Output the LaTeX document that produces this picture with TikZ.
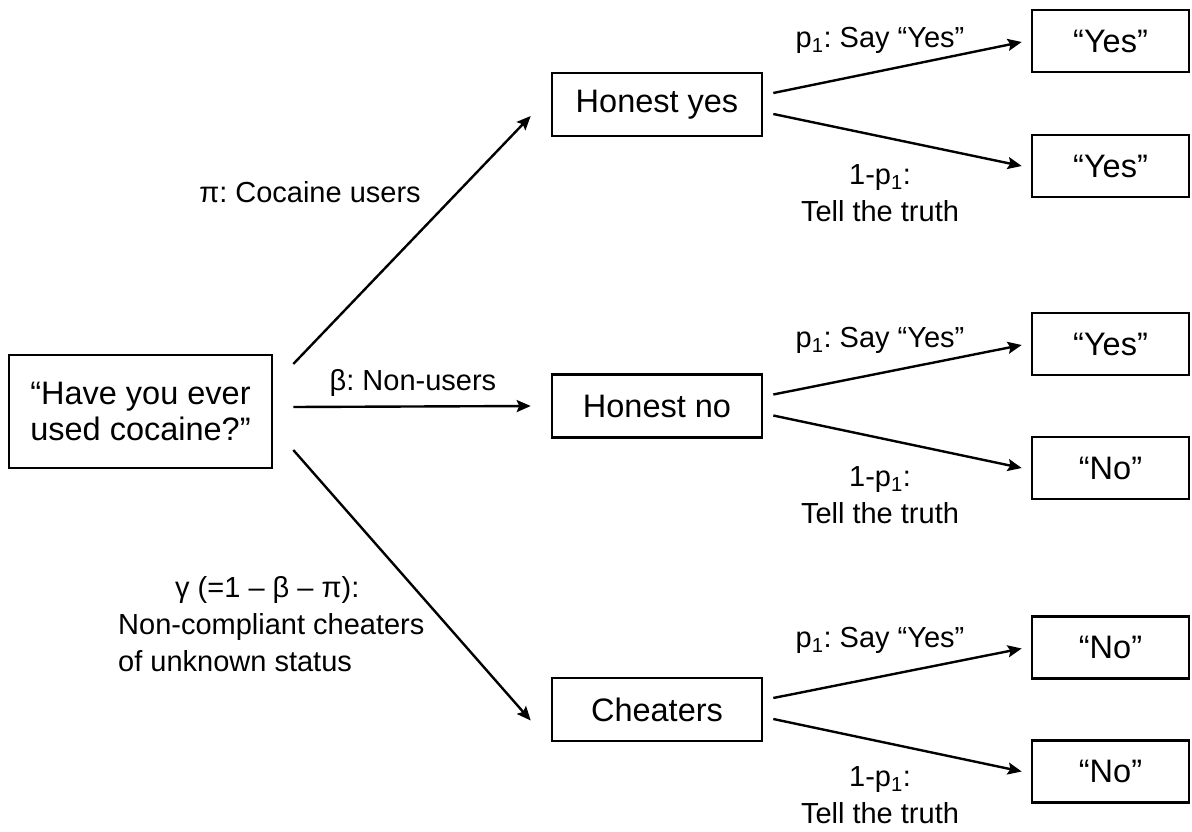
\documentclass[tikz,border=0pt]{standalone}
\usepackage{fontspec}
\setmainfont{Liberation Sans}
\frenchspacing
\usetikzlibrary{arrows.meta}
\begin{document}
\begin{tikzpicture}[x=1pt,y=-1pt,
  box/.style={draw, line width=2.6pt, inner sep=0pt, align=center,
    font=\fontsize{32.5}{36}\selectfont},
  midbox/.style={box, minimum width=210pt, minimum height=63pt},
  endbox/.style={box, minimum width=157pt, minimum height=62pt},
  lbl/.style={inner sep=0pt, align=center, font=\fontsize{29}{37}\selectfont},
  arr/.style={line width=2.4pt, -{Stealth[length=14pt,width=12pt,inset=2.5pt]}}]
\useasboundingbox (0,0) rectangle (1192,832);

% question and the three groups of respondents
\node[box, minimum width=263pt, minimum height=113pt] (q) at (140.5,411.5)
  {“Have you ever\\used cocaine?”};
\node[midbox] (hy) at (657,104.5) {Honest yes};
\node[midbox] (hn) at (657,406) {Honest no};
\node[midbox] (ch) at (657,709.5) {Cheaters};

% answers given
\node[endbox] (a1) at (1110.5,41) {“Yes”};
\node[endbox] (a2) at (1110.5,166) {“Yes”};
\node[endbox] (a3) at (1110.5,344) {“Yes”};
\node[endbox] (a4) at (1110.5,468) {“No”};
\node[endbox] (a5) at (1110.5,647.5) {“No”};
\node[endbox] (a6) at (1110.5,771.5) {“No”};

% branches from the question
\draw[arr] ([shift={(20,-47.5)}]q.east) -- ([shift={(-20,11.5)}]hy.west);
\draw[arr] ([shift={(20,-4.5)}]q.east) -- ([shift={(-20,0)}]hn.west);
\draw[arr] ([shift={(20,38.5)}]q.east) -- ([shift={(-20,11)}]ch.west);

\node[lbl] (lpi) at (310,192) {π: Cocaine users};
\node[lbl] (lbeta) at (413,383) {β: Non-users};
\node[lbl, align=left, anchor=west] (lgamma) at (118,624)
  {\hspace*{57pt}γ (=1 – β – π):\\Non-compliant cheaters\\of unknown status};

% branches from each group to the answers
\foreach \g/\u/\l in {hy/a1/a2, hn/a3/a4, ch/a5/a6}{
  \draw[arr] ([shift={(10,-11.5)}]\g.east) -- ([shift={(-9,1)}]\u.west);
  \draw[arr] ([shift={(10,9.5)}]\g.east) -- ([shift={(-9,0)}]\l.west);
}
\node[lbl] (p1) at (880,40) {p\textsubscript{1}: Say “Yes”};
\node[lbl] (p2) at (880,340) {p\textsubscript{1}: Say “Yes”};
\node[lbl] (p3) at (880,640) {p\textsubscript{1}: Say “Yes”};
\node[lbl] (t1) at (880,193) {1-p\textsubscript{1}:\\Tell the truth};
\node[lbl] (t2) at (880,495) {1-p\textsubscript{1}:\\Tell the truth};
\node[lbl] (t3) at (880,795) {1-p\textsubscript{1}:\\Tell the truth};
\end{tikzpicture}
\end{document}
